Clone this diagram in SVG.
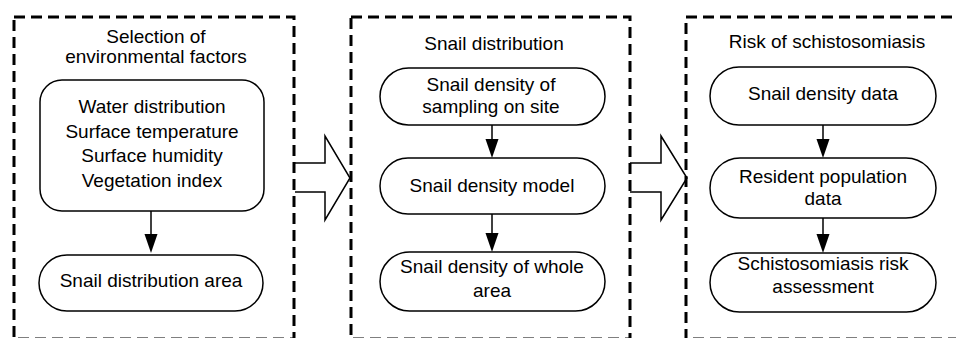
<svg xmlns="http://www.w3.org/2000/svg" width="956" height="338" viewBox="0 0 956 338">
<style>
.panel{fill:none;stroke:#000;stroke-width:3;stroke-dasharray:11 6}
.node{fill:#fff;stroke:#000;stroke-width:1.5}
.blk{fill:#fff;stroke:#000;stroke-width:1.5;stroke-linejoin:miter}
.t{font-family:"Liberation Sans",Arial,sans-serif;font-size:19px;fill:#000;text-anchor:middle}
.ln{stroke:#000;stroke-width:1.5;fill:none}
.ah{fill:#000;stroke:none}
</style>
<rect width="956" height="338" fill="#fff"/>
<g id="connectors">
  <path class="blk" d="M295,163 H325 V136 L350,178 L325,220 V192 H295"/>
  <path class="blk" d="M630,163 H661 V136 L687,178 L661,220 V192 H630"/>
  <line class="ln" x1="151" y1="211" x2="151" y2="236"/>
  <polygon class="ah" points="144.5,234 157.5,234 151,253"/>
  <line class="ln" x1="492" y1="125" x2="492" y2="141"/>
  <polygon class="ah" points="485.5,139 498.5,139 492,158"/>
  <line class="ln" x1="492" y1="214" x2="492" y2="235"/>
  <polygon class="ah" points="485.5,233 498.5,233 492,252"/>
  <line class="ln" x1="823" y1="125" x2="823" y2="141"/>
  <polygon class="ah" points="816.5,139 829.5,139 823,158"/>
  <line class="ln" x1="823" y1="218" x2="823" y2="236"/>
  <polygon class="ah" points="816.5,234 829.5,234 823,253"/>
</g>
<g id="panel1">
  <rect class="panel" x="14" y="17" width="280" height="322"/>
  <text class="t" x="156" y="43">Selection of</text>
  <text class="t" x="156" y="63">environmental factors</text>
</g>
<g id="panel2">
  <rect class="panel" x="351" y="17" width="279" height="322"/>
  <text class="t" x="494" y="50">Snail distribution</text>
</g>
<g id="panel3">
  <rect class="panel" x="686" y="17" width="290" height="322"/>
  <text class="t" x="827" y="48">Risk of schistosomiasis</text>
</g>
<g id="factors">
  <rect class="node" x="40" y="80" width="224" height="131" rx="22"/>
  <text class="t" x="152" y="113">Water distribution</text>
  <text class="t" x="152" y="137.5">Surface temperature</text>
  <text class="t" x="152" y="162">Surface humidity</text>
  <text class="t" x="152" y="186.5">Vegetation index</text>
</g>
<g id="snail-area">
  <rect class="node" x="39" y="255" width="224" height="56" rx="28"/>
  <text class="t" x="151" y="287">Snail distribution area</text>
</g>
<g id="sampling">
  <rect class="node" x="380" y="68" width="225" height="57" rx="28.5"/>
  <text class="t" x="491" y="91">Snail density of</text>
  <text class="t" x="491" y="113">sampling on site</text>
</g>
<g id="model">
  <rect class="node" x="380" y="158" width="225" height="56" rx="28"/>
  <text class="t" x="492" y="192">Snail density model</text>
</g>
<g id="whole">
  <rect class="node" x="380" y="252" width="225" height="59" rx="29.5"/>
  <text class="t" x="492" y="273">Snail density of whole</text>
  <text class="t" x="492" y="297">area</text>
</g>
<g id="density-data">
  <rect class="node" x="710" y="67" width="226" height="58" rx="29"/>
  <text class="t" x="823" y="100">Snail density data</text>
</g>
<g id="population">
  <rect class="node" x="710" y="158" width="226" height="60" rx="30"/>
  <text class="t" x="823" y="183">Resident population</text>
  <text class="t" x="823" y="205">data</text>
</g>
<g id="risk">
  <rect class="node" x="710" y="253" width="226" height="59" rx="29.5"/>
  <text class="t" x="823" y="270">Schistosomiasis risk</text>
  <text class="t" x="823" y="293">assessment</text>
</g>
</svg>
